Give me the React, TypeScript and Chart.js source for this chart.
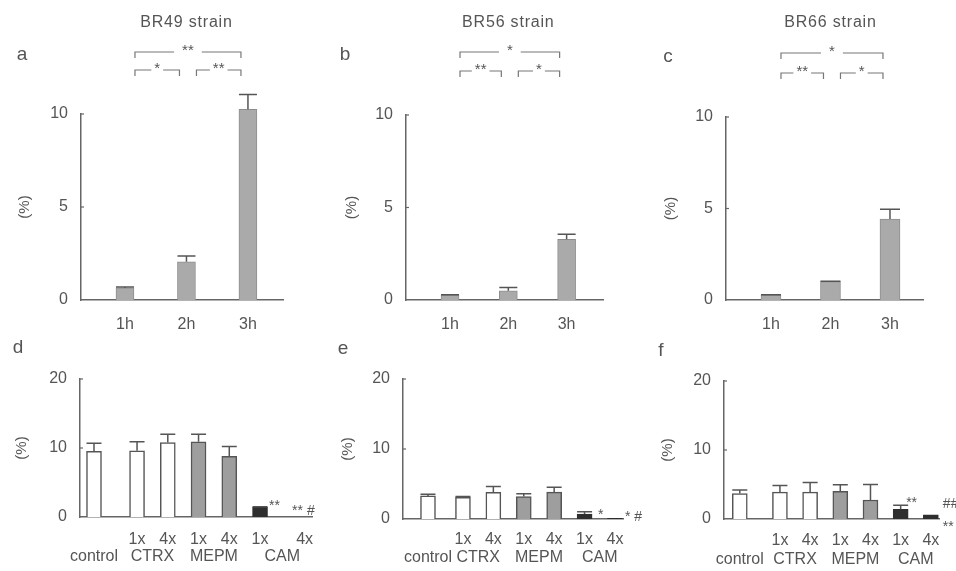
import { useEffect, useRef } from "react";
import { Chart, registerables } from "chart.js";

Chart.register(...registerables);

const FONT = "'Liberation Sans', Arial, Helvetica, sans-serif";
const TEXT_COLOR = "#555555";
const AXIS_COLOR = "#666666";
const ERR_COLOR = "#555555";
Chart.defaults.font.family = FONT;
Chart.defaults.color = TEXT_COLOR;

// ---------------- data ----------------
const timeLabels = ["1h", "2h", "3h"];
const timeAxisTicks = [0, 5, 10];

const br49Title = "BR49 strain";
const br56Title = "BR56 strain";
const br66Title = "BR66 strain";

const br49TimeMeans = [0.65, 2.05, 10.25];
const br49TimeErrors = [0.05, 0.32, 0.8];
const br56TimeMeans = [0.27, 0.5, 3.28];
const br56TimeErrors = [0.02, 0.18, 0.27];
const br66TimeMeans = [0.27, 1.0, 4.42];
const br66TimeErrors = [0.02, 0.02, 0.54];

const br49Brackets = [
  { from: 0, to: 2, level: 0, label: "**" },
  { from: 0, to: 1, level: 1, label: "*" },
  { from: 1, to: 2, level: 1, label: "**" },
];
const br56Brackets = [
  { from: 0, to: 2, level: 0, label: "*" },
  { from: 0, to: 1, level: 1, label: "**" },
  { from: 1, to: 2, level: 1, label: "*" },
];
const br66Brackets = [
  { from: 0, to: 2, level: 0, label: "*" },
  { from: 0, to: 1, level: 1, label: "**" },
  { from: 1, to: 2, level: 1, label: "*" },
];

const treatmentAxisTicks = [0, 10, 20];
const doseLabels = ["", "1x", "4x", "1x", "4x", "1x", "4x"];
const drugOfBar = ["control", "CTRX", "CTRX", "MEPM", "MEPM", "CAM", "CAM"];
const drugNames = ["control", "CTRX", "MEPM", "CAM"];

const br49TreatMeans = [9.5, 9.6, 10.8, 10.9, 8.8, 1.4, 0];
const br49TreatErrors = [1.2, 1.3, 1.2, 1.1, 1.4, 0.1, 0];
const br56TreatMeans = [3.3, 3.1, 3.8, 3.2, 3.85, 0.7, 0.1];
const br56TreatErrors = [0.25, 0.1, 0.85, 0.4, 0.7, 0.35, 0];
const br66TreatMeans = [3.7, 3.9, 3.9, 4.0, 2.75, 1.4, 0.6];
const br66TreatErrors = [0.5, 0.95, 1.4, 0.95, 2.25, 0.6, 0];

const br49Marks = [
  { index: 5, text: "**" },
  { index: 6, text: "** #" },
];
const br56Marks = [
  { index: 5, text: "*" },
  { index: 6, text: "* #" },
];
const br66Marks = [
  { index: 5, text: "**" },
  { index: 6, text: "##" },
  { index: 6, text: "**" },
];

// ---------------- styles / layout ----------------
const drugFill: Record<string, string> = {
  control: "#ffffff",
  CTRX: "#ffffff",
  MEPM: "#9e9e9e",
  CAM: "#2e2e2e",
};
const drugBorder: Record<string, string> = {
  control: "#555555",
  CTRX: "#555555",
  MEPM: "#555555",
  CAM: "#2e2e2e",
};

type Layout = {
  left: number;
  right: number;
  top: number;
  bottom: number;
  axisH: number;
  yTitleX: number;
  xMin: number;
  xMax: number;
  barWidth: number;
  xTickPad: number;
  xTickSize: number;
  xTickLine: string;
  letterX: number;
  letterY: number;
  bracketY?: number[];
  gapAfterControl?: number;
  gapBeforeLast?: number;
  markOffsets?: number[][];
};

const layoutA: Layout = { left: 81, right: 283, top: 114, bottom: 300, axisH: 40, yTitleX: 25, xMin: -0.715, xMax: 2.57, barWidth: 18, xTickPad: 15, xTickSize: 16, xTickLine: "19px", letterX: 22, letterY: 55, bracketY: [52, 70] };
const layoutB: Layout = { left: 406, right: 603, top: 115, bottom: 300, axisH: 40, yTitleX: 352, xMin: -0.755, xMax: 2.624, barWidth: 18, xTickPad: 15, xTickSize: 16, xTickLine: "19px", letterX: 345, letterY: 55, bracketY: [52, 71] };
const layoutC: Layout = { left: 726, right: 923, top: 117, bottom: 300, axisH: 40, yTitleX: 671, xMin: -0.756, xMax: 2.555, barWidth: 20, xTickPad: 15, xTickSize: 16, xTickLine: "19px", letterX: 668, letterY: 57, bracketY: [53, 73] };
const layoutD: Layout = { left: 80, right: 312, top: 379, bottom: 517, axisH: 54, yTitleX: 22, xMin: -0.455, xMax: 7.09, barWidth: 15, xTickPad: 14, xTickSize: 16, xTickLine: "17px", letterX: 18, letterY: 348, gapAfterControl: 0.4, gapBeforeLast: 0.45, markOffsets: [[1.5, 3.4], [-20, -2]] };
const layoutE: Layout = { left: 403, right: 623, top: 379, bottom: 519, axisH: 52, yTitleX: 348, xMin: -0.822, xMax: 6.414, barWidth: 15, xTickPad: 12, xTickSize: 16, xTickLine: "18px", letterX: 343, letterY: 349, gapAfterControl: 0.15, gapBeforeLast: 0, markOffsets: [[6, 7.4], [2.5, 2.7]] };
const layoutF: Layout = { left: 724, right: 939, top: 381, bottom: 519, axisH: 52, yTitleX: 668, xMin: -0.523, xMax: 6.6, barWidth: 15, xTickPad: 12, xTickSize: 16, xTickLine: "19px", letterX: 661, letterY: 351, gapAfterControl: 0.33, gapBeforeLast: 0, markOffsets: [[-2, 1.8], [4.5, -7], [4.5, 16]] };

type Bracket = { from: number; to: number; level: number; label: string };
type Mark = { index: number; text: string };
type Panel = {
  letter: string;
  title?: string;
  means: number[];
  errors: number[];
  positions: number[];
  xTicks: { value: number; label: string | string[] }[];
  yTicks: number[];
  yMax: number;
  fills: string[];
  borders: string[];
  borderWidth: number;
  brackets?: Bracket[];
  marks?: Mark[];
  L: Layout;
};

function timePanel(letter: string, title: string, means: number[], errors: number[], brackets: Bracket[], L: Layout): Panel {
  const positions = timeLabels.map((_, i) => i);
  return {
    letter,
    title,
    means,
    errors,
    positions,
    xTicks: timeLabels.map((lab, i) => ({ value: positions[i], label: lab })),
    yTicks: timeAxisTicks,
    yMax: timeAxisTicks[timeAxisTicks.length - 1],
    fills: means.map(() => "#aaaaaa"),
    borders: means.map(() => "#8e8e8e"),
    borderWidth: 1,
    brackets,
    L,
  };
}

function treatPanel(letter: string, means: number[], errors: number[], marks: Mark[], L: Layout): Panel {
  const last = doseLabels.length - 1;
  const positions = doseLabels.map(
    (_, i) => i + (i > 0 ? L.gapAfterControl || 0 : 0) + (i === last ? L.gapBeforeLast || 0 : 0)
  );
  const ticks: { value: number; label: string | string[] }[] = [];
  doseLabels.forEach((d, i) => {
    if (d) ticks.push({ value: positions[i], label: d });
  });
  drugNames.forEach((name) => {
    const idx = drugOfBar.map((d, i) => (d === name ? i : -1)).filter((i) => i >= 0);
    const v = idx.reduce((s, i) => s + positions[i], 0) / idx.length;
    ticks.push({ value: v, label: ["", name] });
  });
  ticks.sort((a, b) => a.value - b.value);
  return {
    letter,
    means,
    errors,
    positions,
    xTicks: ticks,
    yTicks: treatmentAxisTicks,
    yMax: treatmentAxisTicks[treatmentAxisTicks.length - 1],
    fills: drugOfBar.map((d) => drugFill[d]),
    borders: drugOfBar.map((d) => drugBorder[d]),
    borderWidth: 1.5,
    marks,
    L,
  };
}

const PANELS: Panel[] = [
  timePanel("a", br49Title, br49TimeMeans, br49TimeErrors, br49Brackets, layoutA),
  timePanel("b", br56Title, br56TimeMeans, br56TimeErrors, br56Brackets, layoutB),
  timePanel("c", br66Title, br66TimeMeans, br66TimeErrors, br66Brackets, layoutC),
  treatPanel("d", br49TreatMeans, br49TreatErrors, br49Marks, layoutD),
  treatPanel("e", br56TreatMeans, br56TreatErrors, br56Marks, layoutE),
  treatPanel("f", br66TreatMeans, br66TreatErrors, br66Marks, layoutF),
];

const W = 956;
const H = 571;
const Y_TITLE_LH = 18;

function decorPlugin(p: Panel) {
  return {
    id: "decor_" + p.letter,
    afterDatasetsDraw(chart: any) {
      const ctx: CanvasRenderingContext2D = chart.ctx;
      const xs = chart.scales.x;
      const ys = chart.scales.y;
      const area = chart.chartArea;
      const L = p.L;
      const meta = chart.getDatasetMeta(0);
      ctx.save();

      // error bars
      ctx.strokeStyle = ERR_COLOR;
      ctx.lineWidth = 1.5;
      meta.data.forEach((bar: any, i: number) => {
        const err = p.errors[i];
        if (!(err > 0)) return;
        const y0 = ys.getPixelForValue(p.means[i]);
        const y1 = ys.getPixelForValue(p.means[i] + err);
        const half = bar.width / 2;
        ctx.beginPath();
        ctx.moveTo(bar.x, y0);
        ctx.lineTo(bar.x, y1);
        ctx.moveTo(bar.x - half, y1);
        ctx.lineTo(bar.x + half, y1);
        ctx.stroke();
      });

      // small inward y ticks
      ctx.strokeStyle = AXIS_COLOR;
      ctx.lineWidth = 1.2;
      ys.ticks.forEach((t: any) => {
        if (t.value === 0) return;
        const y = ys.getPixelForValue(t.value);
        ctx.beginPath();
        ctx.moveTo(area.left, y);
        ctx.lineTo(area.left + 3, y);
        ctx.stroke();
      });

      ctx.fillStyle = TEXT_COLOR;

      // strain title
      if (p.title) {
        ctx.font = `16px ${FONT}`;
        (ctx as any).letterSpacing = "0.8px";
        ctx.textAlign = "center";
        ctx.textBaseline = "middle";
        ctx.fillText(p.title, xs.getPixelForValue(p.positions[1]), 23);
        (ctx as any).letterSpacing = "0px";
      }

      // panel letter
      ctx.font = `19px ${FONT}`;
      ctx.textAlign = "center";
      ctx.textBaseline = "middle";
      ctx.fillText(p.letter, L.letterX, L.letterY);

      // significance brackets
      if (p.brackets && L.bracketY) {
        ctx.strokeStyle = "#777777";
        ctx.lineWidth = 1.2;
        ctx.font = `15px ${FONT}`;
        ctx.textBaseline = "alphabetic";
        p.brackets.forEach((b) => {
          const x1 = xs.getPixelForValue(p.positions[b.from]) + 10;
          const x2 = xs.getPixelForValue(p.positions[b.to]) - 7;
          const y = L.bracketY![b.level];
          const tw = ctx.measureText(b.label).width;
          const mid = (x1 + x2) / 2;
          const pad = b.level === 0 ? 8 : 3;
          ctx.beginPath();
          ctx.moveTo(x1, y + 6);
          ctx.lineTo(x1, y);
          ctx.lineTo(mid - tw / 2 - pad, y);
          ctx.moveTo(mid + tw / 2 + pad, y);
          ctx.lineTo(x2, y);
          ctx.lineTo(x2, y + 6);
          ctx.stroke();
          ctx.fillText(b.label, mid, y + 3);
        });
      }

      // annotation marks
      if (p.marks && L.markOffsets) {
        ctx.font = `14px ${FONT}`;
        ctx.textAlign = "left";
        ctx.textBaseline = "alphabetic";
        p.marks.forEach((m, k) => {
          const bar: any = meta.data[m.index];
          const off = L.markOffsets![k] || [0, 0];
          const top = p.means[m.index] + (p.errors[m.index] || 0);
          const x = bar.x + bar.width / 2 + off[0];
          const y = ys.getPixelForValue(top) + off[1];
          ctx.fillText(m.text, x, y);
        });
      }
      ctx.restore();
    },
  };
}

function buildConfig(p: Panel): any {
  const L = p.L;
  const padL = L.yTitleX - Y_TITLE_LH / 2;
  const yWidth = L.left - padL;
  return {
    type: "bar",
    data: {
      datasets: [
        {
          data: p.means.map((m, i) => ({ x: p.positions[i], y: m })),
          backgroundColor: p.fills,
          borderColor: p.borders,
          borderWidth: p.borderWidth,
          borderSkipped: "start",
          barThickness: L.barWidth,
          clip: false,
        },
      ],
    },
    options: {
      responsive: false,
      animation: false,
      events: [],
      layout: {
        padding: {
          left: padL,
          right: W - L.right,
          top: L.top,
          bottom: Math.max(0, H - L.bottom - L.axisH),
        },
      },
      plugins: {
        legend: { display: false },
        tooltip: { enabled: false },
        title: { display: false },
      },
      scales: {
        x: {
          type: "linear",
          min: L.xMin,
          max: L.xMax,
          offset: false,
          grid: { display: false, drawTicks: false },
          border: { display: true, color: AXIS_COLOR, width: 1.5 },
          ticks: {
            autoSkip: false,
            maxRotation: 0,
            minRotation: 0,
            padding: L.xTickPad,
            color: TEXT_COLOR,
            font: { size: L.xTickSize, lineHeight: L.xTickLine },
            callback: (_v: number, i: number) => (p.xTicks[i] ? p.xTicks[i].label : ""),
          },
          afterBuildTicks: (s: any) => {
            s.ticks = p.xTicks.map((t) => ({ value: t.value }));
          },
          afterFit: (s: any) => {
            s.height = L.axisH;
          },
        },
        y: {
          type: "linear",
          min: 0,
          max: p.yMax,
          grid: { display: false, drawTicks: false },
          border: { display: true, color: AXIS_COLOR, width: 1.5 },
          ticks: {
            padding: 13,
            color: TEXT_COLOR,
            font: { size: 16 },
          },
          title: {
            display: true,
            text: "(%)",
            color: TEXT_COLOR,
            padding: 0,
            font: { size: 15, lineHeight: Y_TITLE_LH + "px" },
          },
          afterBuildTicks: (s: any) => {
            s.ticks = p.yTicks.map((v) => ({ value: v }));
          },
          afterFit: (s: any) => {
            s.width = yWidth;
          },
        },
      },
    },
    plugins: [decorPlugin(p)],
  };
}

export default function App() {
  const refs = useRef<(HTMLCanvasElement | null)[]>([]);
  useEffect(() => {
    document.body.style.margin = "0";
    const charts = PANELS.map((p, i) => new Chart(refs.current[i] as HTMLCanvasElement, buildConfig(p)));
    return () => {
      charts.forEach((c) => c.destroy());
    };
  }, []);
  return (
    <div style={{ position: "relative", width: W, height: H, background: "#ffffff" }}>
      {PANELS.map((p, i) => (
        <canvas
          key={p.letter}
          ref={(el) => {
            refs.current[i] = el;
          }}
          width={W}
          height={H}
          style={{ position: "absolute", left: 0, top: 0, width: W, height: H }}
        />
      ))}
    </div>
  );
}
